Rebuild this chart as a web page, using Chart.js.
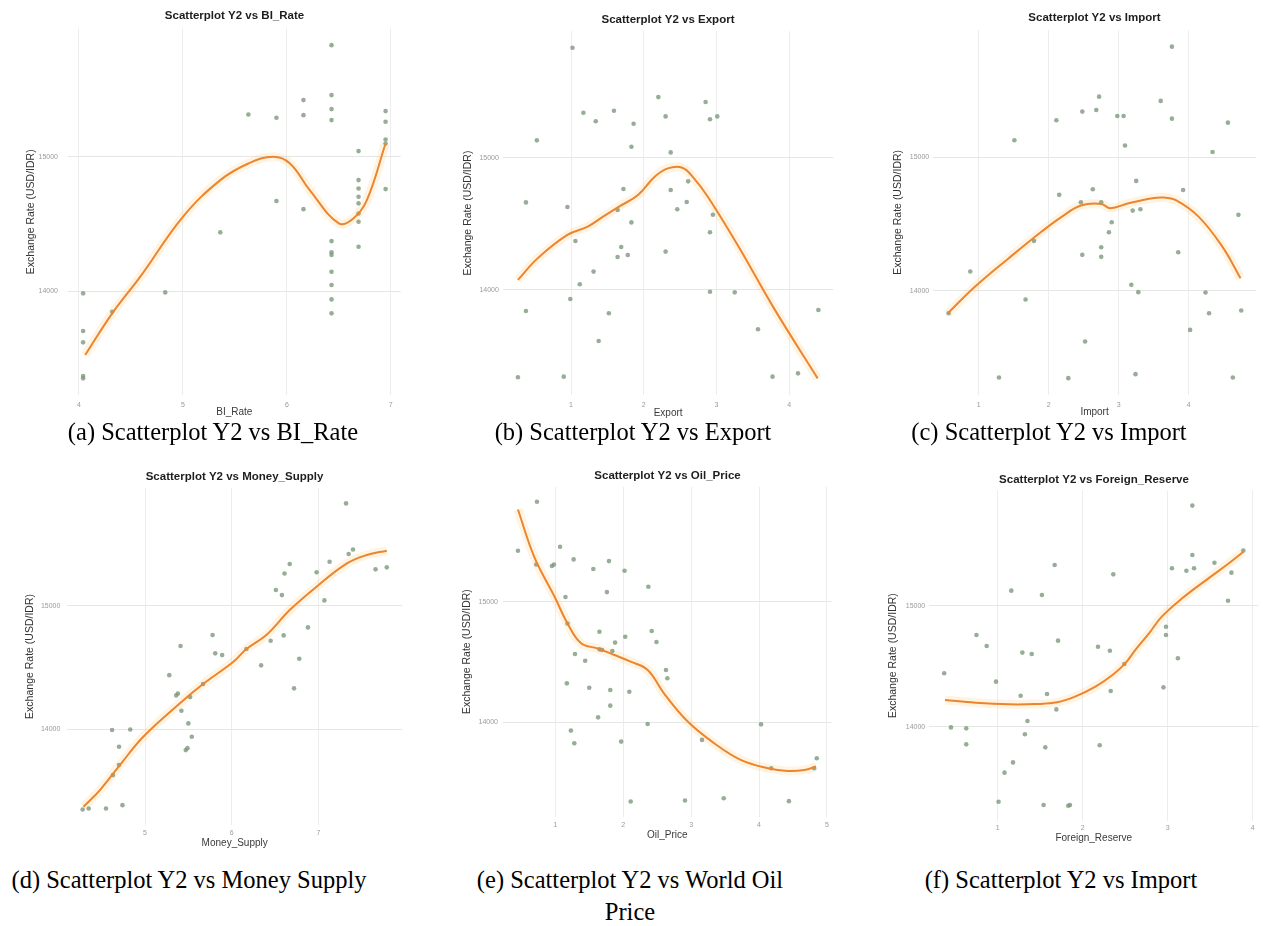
<!DOCTYPE html>
<html>
<head>
<meta charset="utf-8">
<title>Scatterplots Y2 vs macro variables</title>
<script src="https://cdn.jsdelivr.net/npm/chart.js@4"></script>
<style>
  html, body { margin: 0; padding: 0; background: #fff; overflow: hidden; width: 1263px; height: 926px; }
  #page { position: relative; width: 1263px; height: 926px; overflow: hidden; background: #fff; }
  #page canvas { position: absolute; }
  .caption {
    position: absolute; font-family: "Liberation Serif", "Times New Roman", serif;
    font-size: 24.5px; line-height: 32px; color: #000; text-align: center;
    white-space: nowrap; transform: translate(-50%, -50%);
  }
</style>
</head>
<body>
<div id="page"></div>
<script>
// Shared y axis ticks (exchange rate, USD/IDR)
const exchangeTicks = [14000, 15000];

// (a) BI_Rate
const biRateTicks = [4, 5, 6, 7];
const biRateX = [6.43, 6.43, 6.43, 6.43, 6.16, 6.16, 5.63, 5.90, 6.95, 6.95, 6.95, 6.95, 6.69, 6.69, 6.69, 6.69, 6.69, 6.69, 6.69, 6.69, 6.95, 5.90, 6.16, 5.36, 6.43, 6.43, 6.43, 6.43, 6.43, 6.43, 6.43, 4.83, 4.04, 4.04, 4.04, 4.32, 4.04, 4.04];
const biRateY = [15831, 15459, 15355, 15273, 15422, 15310, 15315, 15290, 15340, 15261, 15129, 15099, 15042, 14826, 14764, 14702, 14653, 14578, 14516, 14330, 14759, 14670, 14610, 14437, 14372, 14288, 14268, 14144, 14045, 13938, 13834, 13990, 13983, 13702, 13618, 13846, 13367, 13350];
const biRateFitX = [4.06, 4.32, 4.59, 5.00, 5.36, 5.63, 5.87, 6.03, 6.22, 6.50, 6.64, 6.77, 6.95];
const biRateFitY = [13524, 13834, 14107, 14553, 14826, 14950, 15000, 14950, 14752, 14504, 14541, 14677, 15099];

// (b) Export
const exportTicks = [1, 2, 3, 4];
const exportX = [1.02, 2.20, 2.85, 1.17, 1.59, 2.30, 2.91, 3.01, 1.34, 1.86, 0.53, 1.83, 2.37, 1.72, 2.37, 2.61, 0.38, 0.95, 2.59, 2.46, 1.64, 2.95, 1.83, 2.91, 1.06, 1.69, 1.64, 1.78, 2.30, 1.31, 1.12, 2.91, 3.25, 0.99, 0.38, 1.52, 4.40, 3.57, 1.38, 0.27, 0.90, 3.77, 4.12];
const exportY = [15831, 15458, 15421, 15340, 15355, 15312, 15290, 15312, 15275, 15257, 15131, 15083, 15040, 14763, 14756, 14821, 14662, 14627, 14665, 14610, 14605, 14569, 14511, 14436, 14370, 14325, 14249, 14264, 14290, 14139, 14043, 13987, 13982, 13932, 13841, 13824, 13849, 13703, 13615, 13340, 13345, 13345, 13370];
const exportFitX = [0.27, 0.54, 0.95, 1.23, 1.44, 1.66, 1.92, 2.15, 2.33, 2.53, 2.69, 2.88, 3.29, 3.79, 4.39];
const exportFitY = [14076, 14239, 14416, 14479, 14554, 14630, 14718, 14856, 14919, 14924, 14844, 14705, 14340, 13861, 13332];

// (c) Import
const importTicks = [1, 2, 3, 4];
const importX = [3.76, 2.72, 3.60, 2.68, 2.48, 2.98, 3.07, 3.76, 2.11, 4.56, 1.51, 3.09, 4.34, 3.25, 2.63, 3.92, 2.15, 2.46, 2.75, 3.20, 3.31, 4.71, 2.90, 2.86, 1.79, 2.75, 2.48, 2.75, 3.85, 0.88, 3.18, 3.28, 4.24, 1.67, 4.29, 4.75, 0.57, 4.02, 2.52, 1.29, 2.28, 3.24, 4.63];
const importY = [15830, 15455, 15423, 15355, 15343, 15310, 15310, 15290, 15278, 15260, 15128, 15088, 15040, 14823, 14760, 14755, 14718, 14663, 14663, 14600, 14610, 14568, 14513, 14438, 14373, 14325, 14268, 14253, 14288, 14143, 14043, 13988, 13985, 13933, 13830, 13850, 13830, 13705, 13618, 13348, 13343, 13373, 13348];
const importFitX = [0.56, 0.95, 1.43, 1.90, 2.19, 2.46, 2.75, 2.88, 3.14, 3.48, 3.64, 3.81, 4.14, 4.48, 4.74];
const importFitY = [13830, 14030, 14243, 14443, 14555, 14638, 14650, 14618, 14655, 14693, 14698, 14680, 14555, 14330, 14093];

// (d) Money_Supply
const moneyTicks = [5, 6, 7];
const moneyX = [7.32, 7.40, 7.35, 7.13, 6.67, 6.61, 6.98, 7.66, 7.79, 6.51, 6.58, 7.07, 6.88, 5.78, 6.60, 5.41, 6.45, 5.81, 5.89, 6.17, 6.34, 6.78, 5.28, 5.67, 6.72, 5.38, 5.36, 5.52, 5.42, 5.50, 5.54, 5.49, 5.47, 4.62, 4.83, 4.70, 4.70, 4.63, 4.28, 4.35, 4.55, 4.74];
const moneyY = [15827, 15455, 15418, 15356, 15337, 15261, 15270, 15294, 15310, 15127, 15086, 15043, 14825, 14763, 14760, 14674, 14717, 14615, 14601, 14650, 14518, 14571, 14439, 14367, 14332, 14291, 14275, 14262, 14151, 14049, 13941, 13849, 13833, 13995, 14000, 13860, 13712, 13631, 13353, 13361, 13361, 13388];
const moneyFitX = [4.29, 4.48, 4.71, 4.98, 5.40, 5.67, 6.02, 6.17, 6.40, 6.67, 6.98, 7.33, 7.56, 7.79];
const moneyFitY = [13375, 13510, 13712, 13941, 14210, 14367, 14547, 14650, 14763, 14965, 15154, 15342, 15410, 15445];

// (e) Oil_Price
const oilTicks = [1, 2, 3, 4, 5];
const oilX = [0.73, 0.45, 1.07, 1.27, 1.56, 1.79, 2.02, 0.72, 0.95, 0.98, 2.37, 1.76, 1.15, 1.18, 1.65, 2.03, 2.42, 2.49, 1.88, 1.65, 1.69, 1.84, 1.29, 1.44, 2.63, 2.65, 1.17, 1.50, 1.81, 2.09, 1.81, 1.63, 2.36, 4.03, 1.23, 1.28, 1.97, 3.16, 4.85, 4.18, 4.81, 2.11, 2.91, 3.48, 4.44];
const oilY = [15829, 15423, 15456, 15351, 15271, 15337, 15257, 15309, 15296, 15309, 15124, 15080, 15039, 14820, 14751, 14710, 14757, 14666, 14661, 14605, 14600, 14591, 14566, 14511, 14434, 14365, 14323, 14287, 14268, 14254, 14138, 14041, 13986, 13983, 13931, 13826, 13840, 13854, 13702, 13619, 13619, 13343, 13351, 13370, 13346];
const oilFitX = [0.45, 0.69, 0.99, 1.18, 1.38, 1.62, 1.87, 2.11, 2.36, 2.60, 2.95, 3.34, 3.73, 4.13, 4.42, 4.67, 4.84];
const oilFitY = [15765, 15373, 15041, 14820, 14655, 14613, 14558, 14503, 14434, 14240, 14006, 13826, 13688, 13619, 13597, 13605, 13633];

// (f) Foreign_Reserve
const reserveTicks = [1, 2, 3, 4];
const reserveX = [3.29, 3.89, 3.29, 1.67, 3.55, 3.05, 3.22, 3.31, 3.75, 2.36, 1.16, 1.52, 3.71, 2.98, 2.98, 0.75, 0.87, 1.71, 2.18, 2.32, 1.29, 1.40, 3.12, 2.49, 0.37, 0.98, 2.95, 2.33, 1.58, 1.27, 1.69, 1.35, 0.45, 0.63, 1.32, 0.63, 1.56, 2.20, 1.18, 1.08, 1.01, 1.54, 1.83, 1.85];
const reserveY = [15827, 15455, 15419, 15336, 15355, 15309, 15289, 15309, 15273, 15259, 15124, 15088, 15041, 14826, 14758, 14758, 14667, 14711, 14661, 14628, 14612, 14601, 14565, 14518, 14441, 14372, 14325, 14295, 14270, 14256, 14143, 14047, 13994, 13986, 13937, 13854, 13829, 13846, 13705, 13620, 13380, 13353, 13347, 13353];
const reserveFitX = [0.38, 0.74, 1.13, 1.44, 1.70, 1.91, 2.15, 2.35, 2.50, 2.62, 2.78, 2.93, 3.17, 3.48, 3.72, 3.89];
const reserveFitY = [14220, 14198, 14185, 14187, 14201, 14248, 14331, 14427, 14523, 14634, 14771, 14909, 15061, 15226, 15350, 15446];

const Y_TITLE = 'Exchange Rate (USD/IDR)';

// Panel placement on the page: plot area [left, top, right, bottom] and text anchors
const panels = [
  { title: 'Scatterplot Y2 vs BI_Rate', xTitle: 'BI_Rate', xs: biRateX, ys: biRateY, fx: biRateFitX, fy: biRateFitY, ticks: biRateTicks,
    area: [68.0, 28.5, 400.7, 395.0], titleY: 16, yTitleX: 31.7, xTitleY: 412, yTickPad: 10, xTickY: 405 },
  { title: 'Scatterplot Y2 vs Export', xTitle: 'Export', xs: exportX, ys: exportY, fx: exportFitX, fy: exportFitY, ticks: exportTicks,
    area: [502.9, 31.2, 833.4, 394.9], titleY: 20, yTitleX: 468, xTitleY: 413, yTickPad: 4, xTickY: 405 },
  { title: 'Scatterplot Y2 vs Import', xTitle: 'Import', xs: importX, ys: importY, fx: importFitX, fy: importFitY, ticks: importTicks,
    area: [933.2, 30.1, 1255.9, 394.7], titleY: 18.3, yTitleX: 898.7, xTitleY: 412, yTickPad: 4, xTickY: 405 },
  { title: 'Scatterplot Y2 vs Money_Supply', xTitle: 'Money_Supply', xs: moneyX, ys: moneyY, fx: moneyFitX, fy: moneyFitY, ticks: moneyTicks,
    area: [67.4, 488.1, 402.0, 824.8], titleY: 477.3, yTitleX: 30, xTitleY: 843, yTickPad: 7, xTickY: 833 },
  { title: 'Scatterplot Y2 vs Oil_Price', xTitle: 'Oil_Price', xs: oilX, ys: oilY, fx: oilFitX, fy: oilFitY, ticks: oilTicks,
    area: [503.0, 486.8, 831.7, 816.5], titleY: 476, yTitleX: 467.7, xTitleY: 835, yTickPad: 5, xTickY: 825 },
  { title: 'Scatterplot Y2 vs Foreign_Reserve', xTitle: 'Foreign_Reserve', xs: reserveX, ys: reserveY, fx: reserveFitX, fy: reserveFitY, ticks: reserveTicks,
    area: [929.2, 490.6, 1258.3, 820.7], titleY: 480, yTitleX: 893.7, xTitleY: 838, yTickPad: 4, xTickY: 828 }
];

const captions = [
  { text: '(a) Scatterplot Y2 vs BI_Rate', x: 213, y: 432 },
  { text: '(b) Scatterplot Y2 vs Export', x: 633, y: 432 },
  { text: '(c) Scatterplot Y2 vs Import', x: 1049, y: 432 },
  { text: '(d) Scatterplot Y2 vs Money Supply', x: 189, y: 880 },
  { text: '(e) Scatterplot Y2 vs World Oil<br>Price', x: 630, y: 896 },
  { text: '(f) Scatterplot Y2 vs Import', x: 1061, y: 880 }
];

const SANS = '"Liberation Sans", Arial, Helvetica, sans-serif';
const LH = 1.2;
const FS_TITLE = 11.5, FS_AXIS = 10, FS_YAXIS = 10.5, FS_TICK = 7;

// ggplot-style 5% expansion of the data range
function expanded(a, b) {
  const all = a.concat(b);
  const lo = Math.min(...all), hi = Math.max(...all);
  const pad = (hi - lo) * 0.05;
  return [lo - pad, hi + pad];
}

const page = document.getElementById('page');

function buildPanel(p) {
  const lhT = FS_TITLE * LH, lhX = FS_AXIS * LH, lhY = FS_YAXIS * LH, lhTick = FS_TICK * LH;
  const [aL, aT, aR, aB] = p.area;

  const cL = Math.round(p.yTitleX - lhY / 2);
  const yw = aL - cL;
  const areaW = aR - aL;
  const W = Math.round(2 * yw + areaW);
  const spacer = W - yw - areaW;

  const titleTop = p.titleY - lhT / 2;
  const cT = Math.floor(titleTop);
  const tPadTop = titleTop - cT;
  const tPadBottom = aT - (p.titleY + lhT / 2);
  const H = Math.round(p.xTitleY + lhX / 2 - cT);
  const xh = cT + H - aB;
  const xTickPad = p.xTickY - aB - lhTick / 2;

  const [xMin, xMax] = expanded(p.xs, p.fx);
  const [yMin, yMax] = expanded(p.ys, p.fy);

  const canvas = document.createElement('canvas');
  canvas.width = W; canvas.height = H;
  canvas.style.left = cL + 'px'; canvas.style.top = cT + 'px';
  canvas.style.width = W + 'px'; canvas.style.height = H + 'px';
  page.appendChild(canvas);

  const points = p.xs.map((x, i) => ({ x, y: p.ys[i] }));
  const fit = p.fx.map((x, i) => ({ x, y: p.fy[i] }));

  new Chart(canvas, {
    type: 'scatter',
    data: {
      datasets: [
        { data: fit, showLine: true, borderColor: '#ec8530', borderWidth: 2, pointRadius: 0,
          tension: 0.4, fill: false, xAxisID: 'x', yAxisID: 'y' },
        { data: points, pointRadius: 2.3, pointBackgroundColor: 'rgba(122,150,122,0.78)',
          pointBorderWidth: 0, xAxisID: 'x', yAxisID: 'y' },
        { data: fit, showLine: true, borderColor: 'rgba(255,200,110,0.2)', borderWidth: 9, pointRadius: 0,
          tension: 0.4, fill: false, xAxisID: 'x', yAxisID: 'y' }
      ]
    },
    options: {
      responsive: false, animation: false, devicePixelRatio: 1,
      layout: { padding: 0, autoPadding: false },
      plugins: {
        legend: { display: false },
        tooltip: { enabled: false },
        title: {
          display: true, text: p.title, color: '#1e1e1e',
          font: { family: SANS, size: FS_TITLE, weight: 'bold', lineHeight: LH },
          padding: { top: tPadTop, bottom: tPadBottom }
        }
      },
      scales: {
        x: {
          type: 'linear', position: 'bottom', min: xMin, max: xMax,
          afterBuildTicks: s => { s.ticks = p.ticks.map(v => ({ value: v })); },
          afterFit: s => { s.height = xh; },
          grid: { color: '#ededed', lineWidth: 1, drawTicks: false },
          border: { display: false },
          ticks: { padding: xTickPad, color: '#9a9a9a', autoSkip: false, maxRotation: 0,
                   font: { family: SANS, size: FS_TICK, lineHeight: LH }, callback: v => String(v) },
          title: { display: true, text: p.xTitle, color: '#3a3a3a', padding: 0,
                   font: { family: SANS, size: FS_AXIS, lineHeight: LH } }
        },
        y: {
          type: 'linear', position: 'left', min: yMin, max: yMax,
          afterBuildTicks: s => { s.ticks = exchangeTicks.map(v => ({ value: v })); },
          afterFit: s => { s.width = yw; },
          grid: { color: '#e6e6e6', lineWidth: 1, drawTicks: false },
          border: { display: false },
          ticks: { padding: p.yTickPad, color: '#9a9a9a',
                   font: { family: SANS, size: FS_TICK, lineHeight: LH }, callback: v => String(v) },
          title: { display: true, text: Y_TITLE, color: '#333333', padding: 0,
                   font: { family: SANS, size: FS_YAXIS, lineHeight: LH } }
        },
        gutter: {
          type: 'linear', position: 'right', display: true,
          grid: { display: false }, border: { display: false }, ticks: { display: false },
          afterFit: s => { s.width = spacer; }
        }
      }
    }
  });
}

panels.forEach(buildPanel);

captions.forEach(c => {
  const d = document.createElement('div');
  d.className = 'caption';
  d.innerHTML = c.text;
  d.style.left = c.x + 'px';
  d.style.top = c.y + 'px';
  page.appendChild(d);
});
</script>
</body>
</html>
